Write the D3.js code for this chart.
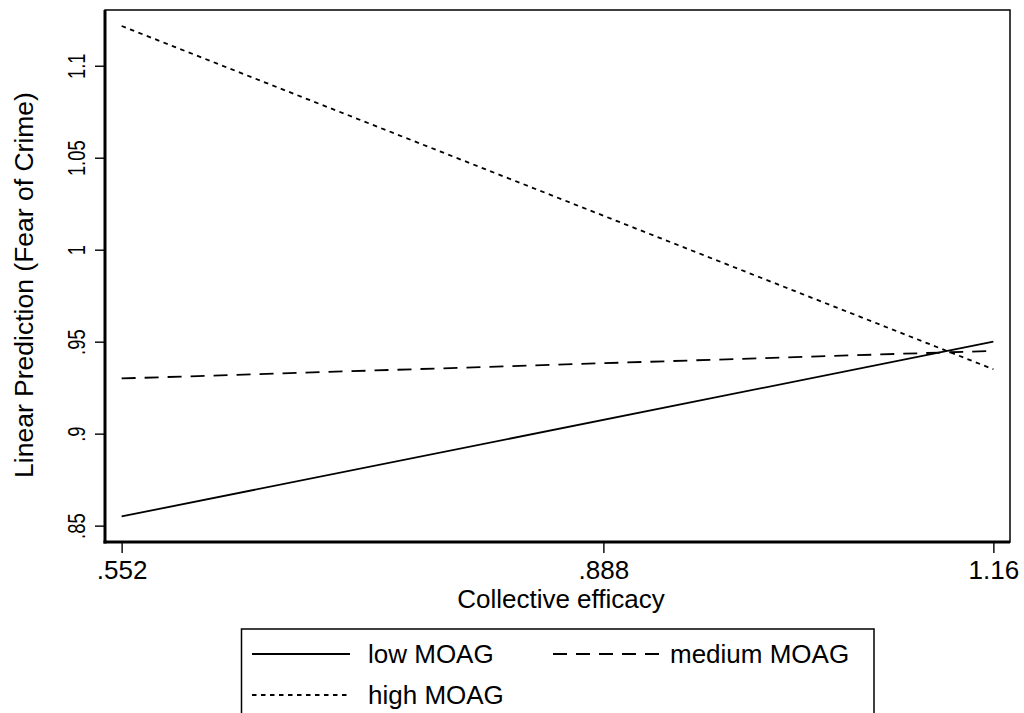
<!DOCTYPE html>
<html>
<head>
<meta charset="utf-8">
<script src="https://cdn.jsdelivr.net/npm/d3@7"></script>
<style>
  body { margin: 0; background: #fff; }
  text { font-family: "Liberation Sans", Arial, Helvetica, sans-serif; fill: #000; }
</style>
</head>
<body>
<svg id="chart" width="1024" height="713"></svg>
<script>
// Predicted fear of crime at the two ends of collective efficacy, by MOAG level
const xEnds = [0.552, 1.16];
const seriesNames = ["low MOAG", "medium MOAG", "high MOAG"];
const lowMOAG = [0.855, 0.950];
const mediumMOAG = [0.930, 0.945];
const highMOAG = [1.1216, 0.935];
const xTicks = [0.552, 0.888, 1.16];
const xTickLabels = [".552", ".888", "1.16"];
const yTicks = [0.85, 0.9, 0.95, 1, 1.05, 1.1];
const yTickLabels = [".85", ".9", ".95", "1", "1.05", "1.1"];

const svg = d3.select("#chart");
const W = 1024, H = 713;
const plot = { left: 105, right: 1010, top: 10, bottom: 542 };

svg.append("rect").attr("width", W).attr("height", H).attr("fill", "#fff");

const x = d3.scaleLinear().domain([0.5404, 1.1716]).range([plot.left, plot.right]);
const y = d3.scaleLinear().domain([0.8411, 1.1303]).range([plot.bottom, plot.top]);

const styles = [
  { dash: null },
  { dash: "14,9" },
  { dash: "4.5,4.5" }
];
const series = [lowMOAG, mediumMOAG, highMOAG];

// plot region border: thin top/right, heavier axis lines left/bottom
svg.append("rect")
  .attr("x", plot.left).attr("y", plot.top)
  .attr("width", plot.right - plot.left).attr("height", plot.bottom - plot.top)
  .attr("fill", "none").attr("stroke", "#000").attr("stroke-width", 1.5);

// x axis
const xAxis = svg.append("g")
  .attr("transform", `translate(0,${plot.bottom})`)
  .call(d3.axisBottom(x).tickValues(xTicks).tickFormat((d, i) => xTickLabels[i]).tickSize(11).tickPadding(6));
xAxis.select(".domain").remove();
xAxis.selectAll(".tick line").attr("stroke", "#000").attr("stroke-width", 1.4);
xAxis.selectAll(".tick text")
  .attr("font-size", 26).attr("font-family", null)
  .attr("y", 37).attr("dy", 0);

// y axis
const yAxis = svg.append("g")
  .attr("transform", `translate(${plot.left},0)`)
  .call(d3.axisLeft(y).tickValues(yTicks).tickFormat((d, i) => yTickLabels[i]).tickSize(10));
yAxis.select(".domain").remove();
yAxis.selectAll(".tick line").attr("stroke", "#000").attr("stroke-width", 1.4);
yAxis.selectAll(".tick text")
  .attr("font-size", 23).attr("font-family", null)
  .attr("x", null).attr("dy", null)
  .attr("text-anchor", "middle")
  .attr("transform", "translate(-20,0) rotate(-90) scale(0.8,1)");

// heavier left and bottom axis lines
svg.append("line")
  .attr("x1", plot.left).attr("x2", plot.left)
  .attr("y1", plot.top).attr("y2", plot.bottom + 1.5)
  .attr("stroke", "#000").attr("stroke-width", 3);
svg.append("line")
  .attr("x1", plot.left - 1.5).attr("x2", plot.right)
  .attr("y1", plot.bottom).attr("y2", plot.bottom)
  .attr("stroke", "#000").attr("stroke-width", 3);

// prediction lines
const line = d3.line().x((d, i) => x(xEnds[i])).y(d => y(d));
series.forEach((s, k) => {
  svg.append("path")
    .datum(s)
    .attr("d", line)
    .attr("fill", "none")
    .attr("stroke", "#000")
    .attr("stroke-width", 1.8)
    .attr("stroke-dasharray", styles[k].dash);
});

// axis titles
svg.append("text")
  .attr("x", 561).attr("y", 608)
  .attr("text-anchor", "middle").attr("font-size", 26)
  .text("Collective efficacy");
svg.append("text")
  .attr("transform", "translate(33,285) rotate(-90)")
  .attr("text-anchor", "middle").attr("font-size", 26.5)
  .text("Linear Prediction (Fear of Crime)");

// legend
const legend = svg.append("g");
legend.append("rect")
  .attr("x", 241.5).attr("y", 629)
  .attr("width", 632.5).attr("height", 100)
  .attr("fill", "#fff").attr("stroke", "#000").attr("stroke-width", 1.5);
const keys = [
  { x1: 252, x2: 350, y: 654, tx: 368, ty: 663 },
  { x1: 553, x2: 660, y: 654, tx: 670, ty: 663 },
  { x1: 252, x2: 350, y: 695, tx: 368, ty: 704 }
];
keys.forEach((k, i) => {
  legend.append("line")
    .attr("x1", k.x1).attr("x2", k.x2).attr("y1", k.y).attr("y2", k.y)
    .attr("stroke", "#000").attr("stroke-width", 1.8)
    .attr("stroke-dasharray", styles[i].dash);
  legend.append("text")
    .attr("x", k.tx).attr("y", k.ty)
    .attr("font-size", 26)
    .text(seriesNames[i]);
});
</script>
</body>
</html>
